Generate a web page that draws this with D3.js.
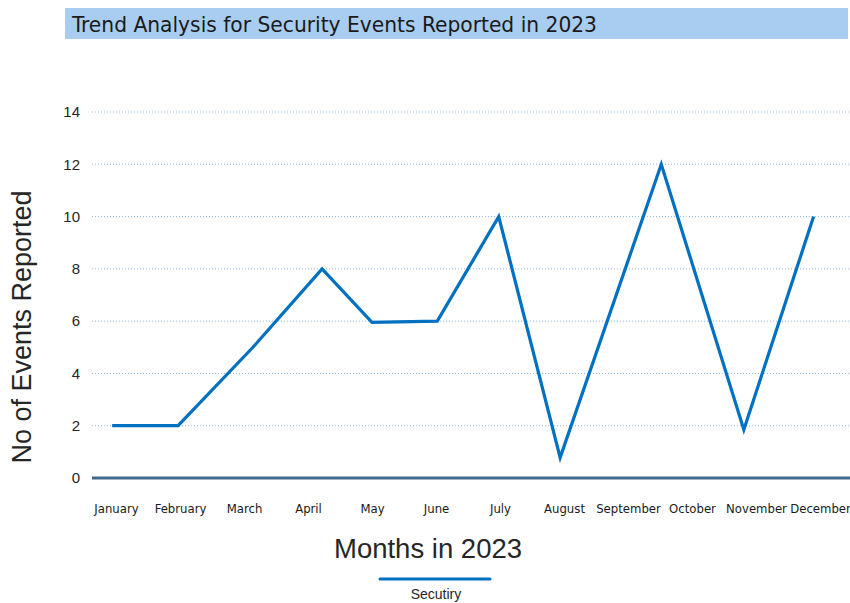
<!DOCTYPE html>
<html><head><meta charset="utf-8">
<script src="https://cdn.jsdelivr.net/npm/d3@7"></script>
<style>
html,body{margin:0;padding:0;background:#fff;}
svg{display:block;}
</style></head>
<body>
<script>
const months = ["January","February","March","April","May","June","July","August","September","October","November","December"];
const pointPos = [-0.06, 0.97, 2.14, 3.22, 4.0, 5.02, 5.98, 6.94, 8.52, 9.81, 10.9];
const events = [2, 2, 5, 8, 5.95, 6, 10, 0.78, 12, 1.85, 10];
const yTicks = [0, 2, 4, 6, 8, 10, 12, 14];
const seriesName = "Secutiry";

const W = 850, H = 603;
const svg = d3.select("body").append("svg").attr("width", W).attr("height", H);

const x = d3.scaleLinear().domain([0, 11]).range([116, 820]);
const y = d3.scaleLinear().domain([0, 14]).range([478, 112]);
const plotLeft = 92, plotRight = 850;

// title bar
svg.append("rect").attr("x", 65).attr("y", 8).attr("width", 783).attr("height", 31).attr("fill", "#a9cdf0");
svg.append("text").attr("x", 72).attr("y", 32)
  .attr("font-family", "'DejaVu Sans Condensed','DejaVu Sans',sans-serif")
  .attr("font-size", 22).attr("fill", "#1a1a1a")
  .attr("textLength", 525).attr("lengthAdjust", "spacingAndGlyphs")
  .text("Trend Analysis for Security Events Reported in 2023");

// gridlines
svg.append("g").selectAll("line").data(yTicks.filter(d => d > 0)).join("line")
  .attr("x1", plotLeft).attr("x2", plotRight)
  .attr("y1", d => y(d)).attr("y2", d => y(d))
  .attr("stroke", "#8dbbe8").attr("stroke-width", 1).attr("stroke-dasharray", "1,2");

// y axis labels
const yAxis = d3.axisLeft(y).tickValues(yTicks).tickSize(0).tickPadding(0);
const gy = svg.append("g").attr("transform", "translate(80,0)").call(yAxis);
gy.select(".domain").remove();
gy.selectAll("text").attr("font-family", "'Liberation Sans',Arial,sans-serif").attr("font-size", 15).attr("fill", "#262626");

// x axis line
svg.append("line").attr("x1", plotLeft).attr("x2", plotRight).attr("y1", y(0)).attr("y2", y(0))
  .attr("stroke", "#44698f").attr("stroke-width", 3);

// x axis labels
const xAxis = d3.axisBottom(x).tickValues(d3.range(12)).tickFormat(i => months[i]).tickSize(0).tickPadding(0);
const gx = svg.append("g").attr("transform", "translate(0,508)").call(xAxis);
gx.select(".domain").remove();
gx.selectAll("text").attr("font-family", "'DejaVu Sans Condensed','DejaVu Sans',sans-serif").attr("font-size", 13).attr("fill", "#1a1a1a").attr("dy", "0.35em");

// line
const data = pointPos.map((p, i) => ({p, v: events[i]}));
svg.append("path").datum(data)
  .attr("fill", "none").attr("stroke", "#0070c0").attr("stroke-width", 3.2)
  .attr("stroke-linejoin", "miter")
  .attr("d", d3.line().x(d => x(d.p)).y(d => y(d.v)));

// axis titles
svg.append("text").attr("transform", "translate(31,327) rotate(-90)")
  .attr("text-anchor", "middle").attr("font-family", "'Liberation Sans',Arial,sans-serif")
  .attr("font-size", 27).attr("fill", "#262626").text("No of Events Reported");
svg.append("text").attr("x", 428).attr("y", 558).attr("text-anchor", "middle")
  .attr("font-family", "'Liberation Sans',Arial,sans-serif")
  .attr("font-size", 27.5).attr("fill", "#262626").text("Months in 2023");

// legend
svg.append("line").attr("x1", 380).attr("x2", 490).attr("y1", 579).attr("y2", 579)
  .attr("stroke", "#0070c0").attr("stroke-width", 3).attr("stroke-linecap", "round");
svg.append("text").attr("x", 436).attr("y", 599).attr("text-anchor", "middle")
  .attr("font-family", "'Liberation Sans',Arial,sans-serif")
  .attr("font-size", 14).attr("fill", "#262626").text(seriesName);
</script>
</body></html>
